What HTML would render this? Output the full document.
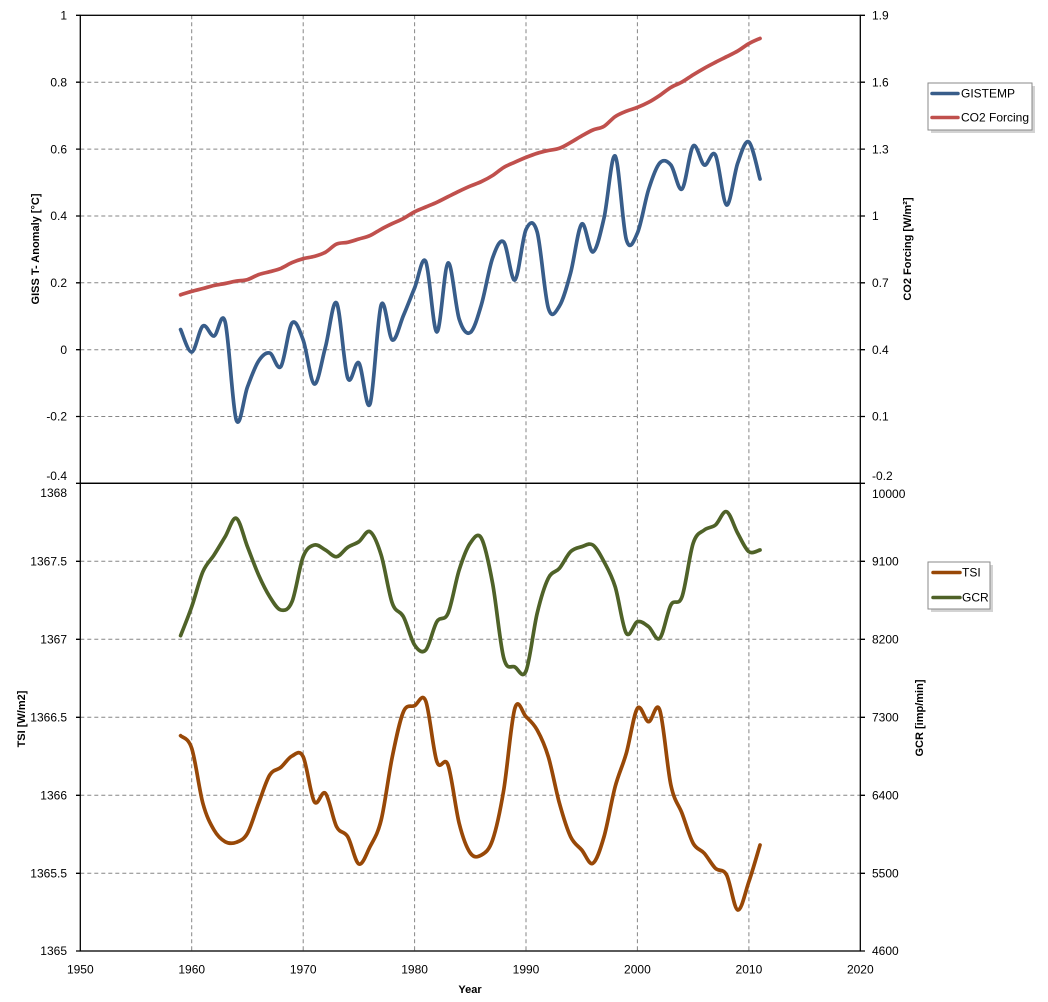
<!DOCTYPE html>
<html>
<head>
<meta charset="utf-8">
<style>
html,body{margin:0;padding:0;background:#fff;}
svg{display:block;}
text{font-family:"Liberation Sans",Arial,sans-serif;fill:#000;}
.t{font-size:12px;}
.b{font-size:11px;font-weight:bold;}
</style>
</head>
<body>
<svg id="chart" width="1048" height="1002" viewBox="0 0 1048 1002" xmlns="http://www.w3.org/2000/svg">
<rect x="0" y="0" width="1048" height="1002" fill="#fff"/>
<!-- gridlines -->
<g stroke="#868686" stroke-width="1" stroke-dasharray="4,3" fill="none">
  <line x1="191.7" y1="15.3" x2="191.7" y2="951"/>
  <line x1="303.2" y1="15.3" x2="303.2" y2="951"/>
  <line x1="414.6" y1="15.3" x2="414.6" y2="951"/>
  <line x1="526" y1="15.3" x2="526" y2="951"/>
  <line x1="637.4" y1="15.3" x2="637.4" y2="951"/>
  <line x1="748.9" y1="15.3" x2="748.9" y2="951"/>
  <line x1="80.3" y1="82.2" x2="860.3" y2="82.2"/>
  <line x1="80.3" y1="149.1" x2="860.3" y2="149.1"/>
  <line x1="80.3" y1="216" x2="860.3" y2="216"/>
  <line x1="80.3" y1="282.8" x2="860.3" y2="282.8"/>
  <line x1="80.3" y1="349.7" x2="860.3" y2="349.7"/>
  <line x1="80.3" y1="416.5" x2="860.3" y2="416.5"/>
  <line x1="80.3" y1="561.3" x2="860.3" y2="561.3"/>
  <line x1="80.3" y1="639.3" x2="860.3" y2="639.3"/>
  <line x1="80.3" y1="717.3" x2="860.3" y2="717.3"/>
  <line x1="80.3" y1="795.3" x2="860.3" y2="795.3"/>
  <line x1="80.3" y1="873.3" x2="860.3" y2="873.3"/>
</g>
<!-- frames -->
<g stroke="#000" stroke-width="1.3" fill="none">
  <rect x="80.3" y="15.3" width="780" height="468"/>
  <rect x="80.3" y="483.3" width="780" height="467.7"/>
  <path d="M76 15.3H80.3M76 82.2H80.3M76 149.1H80.3M76 216H80.3M76 282.8H80.3M76 349.7H80.3M76 416.5H80.3M76 483.3H80.3M76 561.3H80.3M76 639.3H80.3M76 717.3H80.3M76 795.3H80.3M76 873.3H80.3M76 951H80.3"/>
  <path d="M860.3 15.3H865M860.3 82.2H865M860.3 149.1H865M860.3 216H865M860.3 282.8H865M860.3 349.7H865M860.3 416.5H865M860.3 483.3H865M860.3 561.3H865M860.3 639.3H865M860.3 717.3H865M860.3 795.3H865M860.3 873.3H865M860.3 951H865"/>
</g>
<!-- left labels -->
<g class="t" text-anchor="end">
  <text x="67" y="19.5">1</text>
  <text x="67" y="86.4">0.8</text>
  <text x="67" y="153.3">0.6</text>
  <text x="67" y="220.2">0.4</text>
  <text x="67" y="287">0.2</text>
  <text x="67" y="353.9">0</text>
  <text x="67" y="420.7">-0.2</text>
  <text x="67" y="480.2">-0.4</text>
  <text x="67" y="497">1368</text>
  <text x="67" y="565.5">1367.5</text>
  <text x="67" y="643.5">1367</text>
  <text x="67" y="721.5">1366.5</text>
  <text x="67" y="799.5">1366</text>
  <text x="67" y="877.5">1365.5</text>
  <text x="67" y="955.2">1365</text>
</g>
<!-- right labels -->
<g class="t" text-anchor="start">
  <text x="872" y="19.5">1.9</text>
  <text x="872" y="86.4">1.6</text>
  <text x="872" y="153.3">1.3</text>
  <text x="872" y="220.2">1</text>
  <text x="872" y="287">0.7</text>
  <text x="872" y="353.9">0.4</text>
  <text x="872" y="420.7">0.1</text>
  <text x="872" y="480.2">-0.2</text>
  <text x="872" y="498">10000</text>
  <text x="872" y="565.5">9100</text>
  <text x="872" y="643.5">8200</text>
  <text x="872" y="721.5">7300</text>
  <text x="872" y="799.5">6400</text>
  <text x="872" y="877.5">5500</text>
  <text x="872" y="955.2">4600</text>
</g>
<!-- x labels -->
<g class="t" text-anchor="middle">
  <text x="80.3" y="973.5">1950</text>
  <text x="191.7" y="973.5">1960</text>
  <text x="303.2" y="973.5">1970</text>
  <text x="414.6" y="973.5">1980</text>
  <text x="526" y="973.5">1990</text>
  <text x="637.4" y="973.5">2000</text>
  <text x="748.9" y="973.5">2010</text>
  <text x="860.3" y="973.5">2020</text>
</g>
<!-- axis titles -->
<text class="b" text-anchor="middle" transform="translate(39,249) rotate(-90)">GISS  T- Anomaly [°C]</text>
<text class="b" text-anchor="middle" transform="translate(911,249) rotate(-90)">CO2 Forcing [W/m²]</text>
<text class="b" text-anchor="middle" transform="translate(25,719) rotate(-90)">TSI  [W/m2]</text>
<text class="b" text-anchor="middle" transform="translate(923,718) rotate(-90)">GCR [imp/min]</text>
<text class="b" text-anchor="middle" x="470" y="993">Year</text>

<!-- series -->
<g fill="none" stroke-width="3.7" stroke-linejoin="round" stroke-linecap="round">
<polyline class="ser" stroke="#C0504D" points="180.59,294.8 191.73,291.3 202.87,288.5 214.02,285.5 225.16,283.5 236.30,281.1 247.45,279.6 258.59,274.6 269.73,271.7 280.87,268.4 292.02,262.6 303.16,258.7 314.30,256.4 325.44,252.2 336.59,244.1 347.73,242.3 358.87,239.0 370.02,235.6 381.16,229.2 392.30,223.6 403.44,218.5 414.59,211.8 425.73,207.0 436.87,202.3 448.02,196.7 459.16,191.2 470.30,186.1 481.44,181.6 492.59,175.5 503.73,167.4 514.87,162.2 526.02,157.4 537.16,153.3 548.30,150.5 559.44,148.3 570.59,142.5 581.73,135.9 592.87,130.0 604.02,126.3 615.16,116.6 626.30,111.2 637.44,107.4 648.59,102.3 659.73,95.4 670.87,87.4 682.02,82.0 693.16,74.8 704.30,68.2 715.44,62.3 726.59,56.7 737.73,51.0 748.87,43.6 760.02,38.4"/>
<polyline class="ser" stroke="#385D8A" points="180.59,329.5 191.73,352 202.87,326 214.02,336 225.16,322 236.30,420 247.45,387 258.59,361 269.73,353 280.87,366.5 292.02,323 303.16,340 314.30,384 325.44,347 336.59,303 347.73,378 358.87,363 370.02,404 381.16,305 392.30,340 403.44,315.5 414.59,288 425.73,261.5 436.87,332 448.02,263 459.16,319 470.30,332.5 481.44,304.5 492.59,258 503.73,242 514.87,280 526.02,229.5 537.16,232 548.30,308 559.44,306 570.59,273 581.73,224 592.87,252 604.02,218 615.16,156 626.30,239.5 637.44,233 648.59,189.5 659.73,163 670.87,165 682.02,189 693.16,146 704.30,165 715.44,155 726.59,205 737.73,163 748.87,142 760.02,179"/>
<polyline class="ser" stroke="#984807" points="180.59,735.7 191.73,748.3 202.87,803.3 214.02,830 225.16,841.7 236.30,842.3 247.45,833.3 258.59,803.3 269.73,775 280.87,767.3 292.02,756 303.16,756.7 314.30,801.7 325.44,793.3 336.59,826.7 347.73,836.7 358.87,864 370.02,846.7 381.16,820 392.30,756.7 403.44,711.7 414.59,705.7 425.73,701 436.87,761.7 448.02,765 459.16,823.3 470.30,853 481.44,855 492.59,840 503.73,790 514.87,708.3 526.02,716.7 537.16,730 548.30,756.7 559.44,803.3 570.59,836.7 581.73,850 592.87,863.3 604.02,836.7 615.16,786.7 626.30,753.3 637.44,708.3 648.59,721.7 659.73,710 670.87,785 682.02,813.3 693.16,843.3 704.30,853.3 715.44,868.3 726.59,875 737.73,910 748.87,881.7 760.02,845"/>
<polyline class="ser" stroke="#4F6228" points="180.59,635.7 191.73,606.7 202.87,571.7 214.02,555 225.16,536.7 236.30,518.3 247.45,546.7 258.59,575 269.73,596.7 280.87,610 292.02,601.7 303.16,556.7 314.30,545 325.44,550 336.59,556.7 347.73,547.3 358.87,541.7 370.02,531.7 381.16,555 392.30,603.3 403.44,616.7 414.59,645 425.73,650 436.87,621.7 448.02,613.3 459.16,570 470.30,543 481.44,538.3 492.59,583.3 503.73,658 514.87,667 526.02,671 537.16,613.3 548.30,578.3 559.44,568.3 570.59,551.7 581.73,546.7 592.87,545 604.02,561.7 615.16,586.7 626.30,633.3 637.44,621.7 648.59,626.7 659.73,638.3 670.87,605 682.02,596.7 693.16,543.3 704.30,530 715.44,525 726.59,511.7 737.73,533.3 748.87,551.7 760.02,550"/>
</g>

<!-- legend 1 -->
<rect x="931" y="86" width="104" height="47" fill="#c8c8c8" opacity="0.8"/>
<rect x="928" y="83" width="104" height="47" fill="#fff" stroke="#8a8a8a" stroke-width="1"/>
<line x1="932" y1="93.5" x2="958" y2="93.5" stroke="#385D8A" stroke-width="3.5" stroke-linecap="round"/>
<line x1="932" y1="117.5" x2="958" y2="117.5" stroke="#C0504D" stroke-width="3.5" stroke-linecap="round"/>
<text class="t" x="961" y="97.7">GISTEMP</text>
<text class="t" x="961" y="121.7">CO2 Forcing</text>

<!-- legend 2 -->
<rect x="931" y="565" width="62" height="47" fill="#c8c8c8" opacity="0.8"/>
<rect x="928" y="562" width="62" height="47" fill="#fff" stroke="#8a8a8a" stroke-width="1"/>
<line x1="933" y1="572.5" x2="960" y2="572.5" stroke="#984807" stroke-width="3.5" stroke-linecap="round"/>
<line x1="933" y1="597.5" x2="960" y2="597.5" stroke="#4F6228" stroke-width="3.5" stroke-linecap="round"/>
<text class="t" x="962" y="576.7">TSI</text>
<text class="t" x="962" y="601.7">GCR</text>
</svg>
<script>
(function(){
  var ns="http://www.w3.org/2000/svg";
  var pls=document.querySelectorAll("polyline.ser");
  for(var k=0;k<pls.length;k++){
    var pl=pls[k];
    var raw=pl.getAttribute("points").trim().split(/\s+/);
    var p=raw.map(function(s){var a=s.split(",");return [parseFloat(a[0]),parseFloat(a[1])];});
    var n=p.length;
    var d="M"+p[0][0].toFixed(2)+","+p[0][1].toFixed(2);
    for(var i=0;i<n-1;i++){
      var p0=p[i-1]||p[i],p1=p[i],p2=p[i+1],p3=p[i+2]||p[i+1];
      var c1x=p1[0]+(p2[0]-p0[0])/6,c1y=p1[1]+(p2[1]-p0[1])/6;
      var c2x=p2[0]-(p3[0]-p1[0])/6,c2y=p2[1]-(p3[1]-p1[1])/6;
      d+=" C"+c1x.toFixed(2)+","+c1y.toFixed(2)+" "+c2x.toFixed(2)+","+c2y.toFixed(2)+" "+p2[0].toFixed(2)+","+p2[1].toFixed(2);
    }
    var path=document.createElementNS(ns,"path");
    path.setAttribute("d",d);
    path.setAttribute("stroke",pl.getAttribute("stroke"));
    pl.parentNode.replaceChild(path,pl);
  }
})();
</script>
</body>
</html>
